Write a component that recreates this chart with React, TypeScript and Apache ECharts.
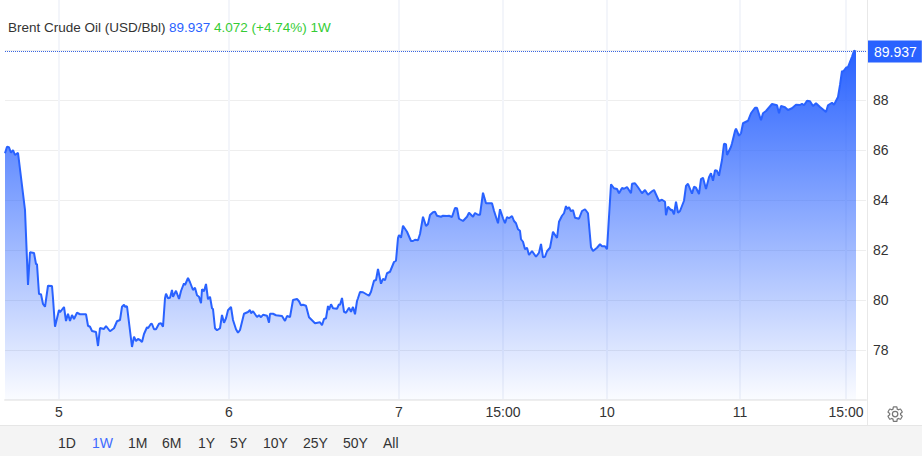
import React, { useEffect, useRef } from "react";
import * as echarts from "echarts";

const slotCount = 862;
const tickSlots = [54, 224, 394, 498, 602, 735, 841];
const tickLabels = ["5", "6", "7", "15:00", "10", "11", "15:00"];
const hiddenPriceTicks = [76, 90, 92];
const rangeButtons = ["1D", "1W", "1M", "6M", "1Y", "5Y", "10Y", "25Y", "50Y", "All"];
const rangeButtonLefts = [58, 92, 128, 162, 198, 230, 263, 303, 343, 383];

const slots = [
  0, 2, 4, 6, 8, 10, 13, 20, 23, 25,
  29, 31, 32, 34, 36, 38, 40, 43, 47, 48,
  50, 54, 55, 59, 61, 63, 65, 67, 69, 72,
  75, 81, 83, 85, 87, 91, 93, 95, 99, 101,
  105, 109, 112, 115, 117, 119, 120, 122, 127, 129,
  131, 133, 135, 137, 139, 142, 143, 146, 147, 149,
  151, 154, 156, 158, 160, 161, 163, 165, 167, 168,
  171, 174, 176, 179, 180, 183, 185, 188, 190, 192,
  194, 196, 197, 199, 201, 203, 205, 207, 208, 210,
  212, 215, 217, 219, 221, 223, 226, 228, 231, 233,
  235, 239, 243, 245, 246, 248, 252, 254, 256, 258,
  262, 264, 265, 268, 271, 277, 280, 282, 285, 288,
  292, 294, 296, 298, 301, 304, 310, 315, 317, 319,
  321, 323, 324, 326, 328, 332, 334, 335, 337, 339,
  341, 344, 346, 348, 350, 352, 353, 355, 358, 364,
  366, 369, 371, 373, 376, 378, 380, 382, 385, 389,
  391, 393, 394, 396, 398, 402, 406, 408, 410, 413,
  415, 418, 421, 423, 425, 428, 430, 432, 436, 438,
  442, 444, 447, 450, 452, 454, 458, 462, 464, 468,
  470, 473, 475, 478, 481, 487, 489, 493, 495, 498,
  500, 502, 504, 507, 509, 511, 513, 515, 516, 518,
  520, 522, 524, 527, 531, 534, 536, 538, 540, 542,
  545, 548, 552, 554, 557, 559, 561, 562, 564, 566,
  568, 570, 574, 577, 580, 583, 586, 588, 592, 595,
  597, 600, 602, 606, 609, 612, 614, 617, 619, 622,
  626, 627, 630, 633, 637, 640, 643, 647, 649, 654,
  657, 660, 661, 663, 666, 667, 669, 671, 673, 675,
  679, 681, 683, 687, 689, 691, 694, 696, 698, 701,
  704, 706, 708, 710, 712, 714, 717, 719, 721, 722,
  726, 727, 730, 731, 734, 736, 738, 743, 746, 750,
  752, 756, 758, 761, 767, 772, 774, 776, 780, 783,
  787, 791, 795, 797, 799, 802, 805, 808, 811, 815,
  821, 823, 827, 829, 833, 835, 837, 838, 841, 843,
  847, 849, 851,
];

const prices = [
  85.87, 86.13, 86.11, 85.89, 86.0, 85.8, 85.89, 83.6, 80.6, 81.91,
  81.88, 81.44, 81.43, 80.24, 80.23, 79.84, 79.73, 80.57, 80.56, 80.07,
  78.93, 79.6, 79.51, 79.72, 79.16, 79.45, 79.16, 79.4, 79.24, 79.49,
  79.43, 79.43, 78.97, 78.93, 78.76, 78.72, 78.16, 78.88, 78.84, 78.96,
  78.75, 78.87, 79.15, 79.2, 79.73, 79.81, 79.73, 79.75, 78.12, 78.53,
  78.36, 78.44, 78.4, 78.32, 78.64, 78.91, 78.87, 79.05, 79.04, 78.83,
  78.83, 79.05, 79.07, 78.93, 80.07, 80.25, 80.07, 80.09, 80.4, 80.13,
  80.37, 80.04, 80.36, 80.67, 80.6, 80.88, 80.71, 80.4, 80.49, 80.19,
  80.13, 79.87, 80.43, 80.35, 80.64, 80.03, 80.13, 79.67, 79.64, 78.87,
  78.79, 78.87, 79.4, 79.09, 79.27, 79.59, 79.72, 79.2, 78.83, 78.69,
  78.8, 79.45, 79.52, 79.6, 79.47, 79.55, 79.32, 79.39, 79.31, 79.41,
  79.37, 79.09, 79.45, 79.45, 79.39, 79.36, 79.16, 79.36, 79.32, 80.0,
  80.04, 79.95, 79.79, 79.81, 79.77, 79.31, 79.07, 79.11, 78.99, 79.24,
  79.27, 79.76, 79.6, 79.83, 79.67, 79.65, 79.83, 79.8, 80.08, 79.53,
  79.49, 79.69, 79.53, 79.72, 79.43, 79.96, 80.07, 80.32, 80.31, 80.17,
  80.33, 80.77, 80.8, 81.24, 80.65, 80.85, 80.79, 81.07, 81.13, 81.52,
  81.57, 82.48, 82.6, 82.49, 82.97, 82.73, 82.36, 82.36, 82.41, 82.39,
  82.64, 83.33, 82.96, 83.04, 83.4, 83.51, 83.53, 83.37, 83.33, 83.37,
  83.36, 83.37, 83.32, 83.68, 83.67, 83.25, 83.16, 83.33, 83.49, 83.33,
  83.48, 83.41, 83.41, 84.29, 83.87, 83.87, 83.57, 83.07, 83.63, 83.27,
  83.07, 83.32, 83.27, 83.36, 83.16, 83.07, 82.83, 82.77, 82.43, 82.33,
  82.03, 82.09, 81.8, 81.96, 81.73, 81.89, 82.24, 81.71, 81.73, 81.95,
  82.09, 82.73, 82.48, 83.13, 83.37, 83.47, 83.76, 83.64, 83.71, 83.55,
  83.6, 83.29, 83.25, 83.56, 83.63, 83.47, 82.11, 81.96, 82.09, 82.23,
  82.15, 82.15, 82.03, 84.63, 84.47, 84.44, 84.27, 84.48, 84.45, 84.52,
  84.27, 84.65, 84.67, 84.51, 84.27, 84.4, 84.21, 84.35, 84.4, 83.96,
  84.01, 83.93, 83.39, 83.73, 83.59, 83.61, 83.43, 83.93, 83.49, 83.56,
  83.97, 84.56, 84.65, 84.25, 84.53, 84.49, 84.24, 84.84, 84.89, 84.44,
  84.91, 85.07, 84.77, 85.19, 85.17, 84.97, 85.6, 86.25, 86.23, 85.8,
  86.13, 86.27, 86.76, 86.85, 86.57, 86.67, 87.07, 87.17, 87.47, 87.69,
  87.69, 87.19, 87.47, 87.56, 87.84, 87.79, 87.47, 87.76, 87.71, 87.6,
  87.67, 87.81, 87.8, 87.85, 87.79, 87.97, 87.95, 87.76, 87.87, 87.72,
  87.52, 87.79, 87.89, 87.81, 88.12, 88.6, 89.16, 89.13, 89.29, 89.32,
  89.73, 89.97, 89.937,
];

const lastPrice = 89.937;
const FONT = "Liberation Sans, Arial, sans-serif";
const BLUE = "#2962ff";

const gearPath =
  "M19.14,12.94c0.04-0.3,0.06-0.61,0.06-0.94c0-0.32-0.02-0.64-0.07-0.94l2.03-1.58c0.18-0.14,0.23-0.41,0.12-0.61l-1.92-3.32c-0.12-0.22-0.37-0.29-0.59-0.22l-2.39,0.96c-0.5-0.38-1.03-0.7-1.62-0.94L14.4,2.81c-0.04-0.24-0.24-0.41-0.48-0.41h-3.84c-0.24,0-0.43,0.17-0.47,0.41L9.25,5.35C8.66,5.59,8.12,5.92,7.63,6.29L5.24,5.33c-0.22-0.08-0.47,0-0.59,0.22L2.74,8.87C2.62,9.08,2.66,9.34,2.86,9.48l2.03,1.58C4.84,11.36,4.8,11.69,4.8,12s0.02,0.64,0.07,0.94l-2.03,1.58c-0.18,0.14-0.23,0.41-0.12,0.61l1.92,3.32c0.12,0.22,0.37,0.29,0.59,0.22l2.39-0.96c0.5,0.38,1.03,0.7,1.62,0.94l0.36,2.54c0.05,0.24,0.24,0.41,0.48,0.41h3.84c0.24,0,0.44-0.17,0.47-0.41l0.36-2.54c0.59-0.24,1.13-0.56,1.62-0.94l2.39,0.96c0.22,0.08,0.47,0,0.59-0.22l1.92-3.32c0.12-0.22,0.07-0.47-0.12-0.61L19.14,12.94z M12,15.6c-1.98,0-3.6-1.62-3.6-3.6s1.62-3.6,3.6-3.6s3.6,1.62,3.6,3.6S13.98,15.6,12,15.6z";

echarts.graphic.registerShape("gearIcon", echarts.graphic.extendPath(gearPath as any, {}) as any);

const categories = Array.from({ length: slotCount }, (_, i) => {
  const k = tickSlots.indexOf(i);
  return k >= 0 ? tickLabels[k] : "";
});

export default function App() {
  const ref = useRef<HTMLDivElement>(null);

  useEffect(() => {
    document.body.style.margin = "0";
    const chart = echarts.init(ref.current!, undefined, { renderer: "svg" });
    const isTick = (i: number) => tickSlots.includes(i);
    const headText = (x: number, text: string, fill: string) => ({
      type: "text",
      x,
      y: 27,
      style: { text, fill, font: `13.5px ${FONT}`, verticalAlign: "middle" },
      z: 10,
    });
    chart.setOption({
      animation: false,
      backgroundColor: "#ffffff",
      grid: { left: 5, right: 56, top: 0, height: 400, containLabel: false },
      xAxis: {
        type: "category",
        data: categories,
        boundaryGap: false,
        axisLine: { show: true, lineStyle: { color: "#eeeeee", width: 2 } },
        axisTick: { show: false },
        axisLabel: {
          interval: (i: number) => isTick(i),
          color: "#333333",
          fontFamily: FONT,
          fontSize: 14,
          margin: 5,
          hideOverlap: false,
        },
        splitLine: {
          show: true,
          interval: (i: number) => isTick(i),
          lineStyle: { color: "#f3f5fa", width: 2 },
        },
      },
      yAxis: {
        type: "value",
        position: "right",
        min: 76,
        max: 92,
        interval: 2,
        axisLine: { show: false },
        axisTick: { show: false },
        axisLabel: {
          color: "#333333",
          fontFamily: FONT,
          fontSize: 14,
          margin: 7,
          padding: [0, 0, 2, 0],
          formatter: (v: number) => (hiddenPriceTicks.includes(v) ? "" : String(v)),
        },
        splitLine: {
          show: true,
          showMinLine: false,
          showMaxLine: false,
          lineStyle: { color: "#eeeeee", width: 1 },
        },
      },
      series: [
        {
          type: "line",
          data: slots.map((s, i) => [s, prices[i]]),
          showSymbol: false,
          smooth: false,
          lineStyle: { color: BLUE, width: 2 },
          itemStyle: { color: BLUE },
          areaStyle: {
            opacity: 1,
            color: new echarts.graphic.LinearGradient(0, 0, 0, 1, [
              { offset: 0, color: "rgba(41,98,255,1)" },
              { offset: 1, color: "rgba(41,98,255,0.02)" },
            ]),
          },
          markLine: {
            silent: true,
            symbol: "none",
            animation: false,
            lineStyle: { color: "#3a66e0", type: "dotted", width: 1 },
            label: {
              show: true,
              position: "end",
              distance: 2,
              formatter: () => lastPrice.toFixed(3),
              backgroundColor: BLUE,
              color: "#ffffff",
              fontFamily: FONT,
              fontSize: 14,
              padding: [4, 5, 4, 6],
            },
            data: [{ yAxis: lastPrice }],
          },
        },
      ],
      graphic: [
        { type: "rect", shape: { x: 0, y: 425, width: 922, height: 31 }, style: { fill: "#f4f4f4" }, z: 1 },
        { type: "line", shape: { x1: 0, y1: 425.5, x2: 922, y2: 425.5 }, style: { stroke: "#e6e6e6", lineWidth: 1 }, z: 2 },
        { type: "line", shape: { x1: 867.5, y1: 0, x2: 867.5, y2: 425 }, style: { stroke: "#e8e8e8", lineWidth: 1 }, z: 2 },
        headText(8, "Brent Crude Oil (USD/Bbl)", "#333333"),
        headText(169, "89.937", "#2962ff"),
        headText(214, "4.072 (+4.74%) 1W", "#35cc35"),
        ...rangeButtons.map((label, i) => ({
          type: "text",
          x: rangeButtonLefts[i],
          y: 443,
          style: {
            text: label,
            fill: label === "1W" ? "#3f6bff" : "#333333",
            font: `14px ${FONT}`,
            verticalAlign: "middle",
          },
          z: 10,
        })),
        {
          type: "gearIcon",
          x: 886,
          y: 405,
          scaleX: 0.76,
          scaleY: 0.76,
          style: { fill: "none", stroke: "#777777", lineWidth: 1.6 },
          z: 10,
        },
      ],
    });
    return () => chart.dispose();
  }, []);

  return <div ref={ref} style={{ width: 922, height: 456 }} />;
}
